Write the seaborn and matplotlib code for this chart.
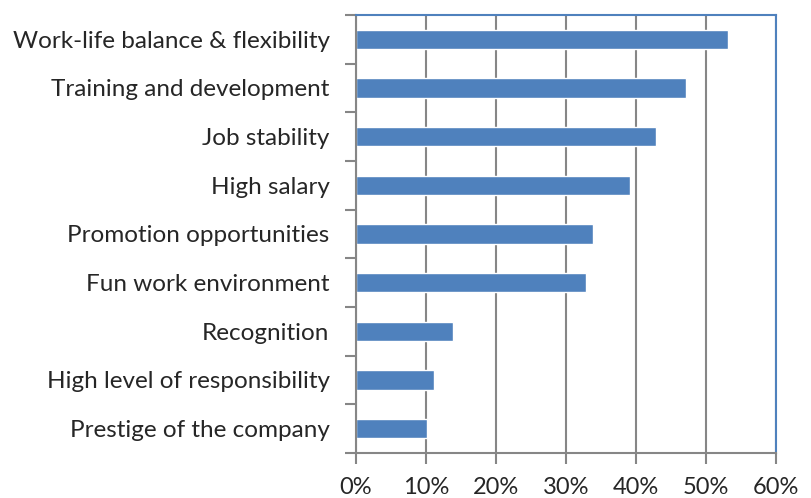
import matplotlib
matplotlib.use("Agg")
import matplotlib.pyplot as plt
import seaborn as sns
import pandas as pd
import numpy as np
from matplotlib.ticker import FixedLocator, PercentFormatter

# data
factors = [
    "Work-life balance & flexibility",
    "Training and development",
    "Job stability",
    "High salary",
    "Promotion opportunities",
    "Fun work environment",
    "Recognition",
    "High level of responsibility",
    "Prestige of the company",
]
shares = [53.2, 47.1, 42.8, 39.1, 33.9, 32.8, 13.9, 11.2, 10.1]
x_ticks = [0, 10, 20, 30, 40, 50, 60]


def main():
    df = pd.DataFrame({"factor": factors, "share": shares})

    sns.set_style("white")
    plt.rcParams["font.family"] = ["Lato", "DejaVu Sans"]

    fig = plt.figure(figsize=(8.12, 4.98), dpi=100)
    ax = fig.add_axes([0.4384, 0.0904, 0.5173, 0.8795])

    sns.barplot(data=df, x="share", y="factor", orient="h", color="#4F81BD",
                saturation=1, width=0.4, ax=ax)

    grey = "#868686"
    ax.set_xlim(0, 60)
    ax.set_ylim(len(factors) - 0.5, -0.5)
    ax.set_xticks(x_ticks)
    ax.xaxis.set_major_formatter(PercentFormatter(decimals=0))
    ax.grid(axis="x", color=grey, linewidth=1.5)
    ax.set_axisbelow(True)
    ax.set_xlabel("")
    ax.set_ylabel("")

    # category boundary ticks on the left axis
    ax.yaxis.set_minor_locator(FixedLocator(np.arange(-0.5, len(factors), 1)))
    ax.tick_params(axis="y", which="minor", left=True, length=8, width=1.5, color=grey)
    ax.tick_params(axis="y", which="major", left=False, length=0, pad=19, labelsize=17.5)
    ax.tick_params(axis="x", bottom=True, length=8, width=1.5, color=grey,
                   pad=9, labelsize=17)

    for side in ["left", "bottom"]:
        ax.spines[side].set_color(grey)
        ax.spines[side].set_linewidth(1.5)
    for side in ["top", "right"]:
        ax.spines[side].set_color("#4F81BD")
        ax.spines[side].set_linewidth(1.5)

    fig.savefig("out.png", dpi=100)


if __name__ == "__main__":
    main()
